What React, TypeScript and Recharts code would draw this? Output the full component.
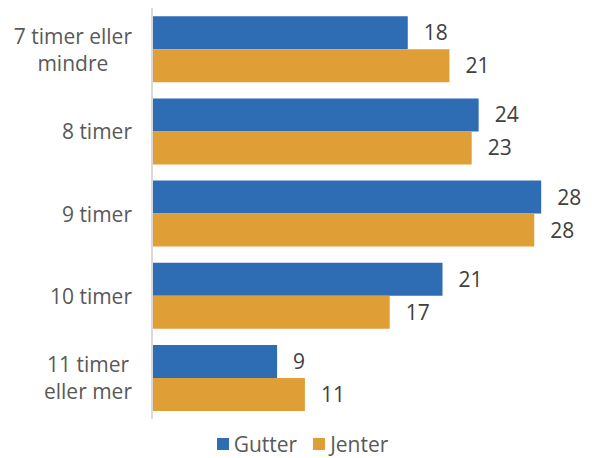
import React from 'react';
import { BarChart, Bar, XAxis, YAxis, Legend, LabelList } from 'recharts';

const categories = ['7 timer eller\nmindre', '8 timer', '9 timer', '10 timer', '11 timer\neller mer'];
const gutter = [18.4, 23.5, 28.0, 20.9, 9.0];
const jenter = [21.4, 23.0, 27.5, 17.1, 11.0];

const data = categories.map((c, i) => ({ name: c, Gutter: gutter[i], Jenter: jenter[i] }));

const FONT = '"Open Sans", sans-serif';
const FS = 21;
const BLUE = '#2E6DB4';
const ORANGE = '#E09E37';

let ctx: CanvasRenderingContext2D | null = null;
const measure = (s: string) => {
  if (!ctx) ctx = document.createElement('canvas').getContext('2d');
  if (!ctx) return s.length * 9;
  ctx.font = `${FS}px ${FONT}`;
  return ctx.measureText(s).width;
};

const CategoryTick = (props: any) => {
  const { x, y, payload } = props;
  const lines: string[] = String(payload.value).split('\n');
  const w = Math.max(...lines.map(measure));
  const cx = x - w / 2;
  const lh = 27;
  const y0 = y - ((lines.length - 1) * lh) / 2;
  return (
    <text x={cx} y={y0} textAnchor="middle" dominantBaseline="central" fill="#595959" fontSize={FS} fontFamily={FONT}>
      {lines.map((l, i) => (
        <tspan key={i} x={cx} y={y0 + i * lh}>{l}</tspan>
      ))}
    </text>
  );
};

const LegendContent = () => (
  <div style={{ height: 39, width: 595, display: 'flex', justifyContent: 'center', alignItems: 'flex-start', paddingTop: 15, paddingLeft: 10, boxSizing: 'border-box', fontFamily: FONT, fontSize: 21, color: '#595959' }}>
    {[['Gutter', BLUE], ['Jenter', ORANGE]].map(([n, c]) => (
      <div key={n} style={{ display: 'flex', alignItems: 'center', margin: '0 8px', lineHeight: '20px' }}>
        <span style={{ width: 12, height: 12, background: c, display: 'inline-block', marginRight: 5 }} />
        {n}
      </div>
    ))}
  </div>
);

export default function App() {
  return (
    <div style={{ width: 595, height: 458 }}>
      <style>{`body{margin:0}`}</style>
      <BarChart
        width={595}
        height={458}
        data={data}
        layout="vertical"
        margin={{ top: 8, right: 26, bottom: 0, left: 0 }}
        barCategoryGap="10%"
        barGap={0}
      >
        <XAxis type="number" domain={[0, 30]} hide />
        <YAxis
          type="category"
          dataKey="name"
          width={152}
          axisLine={{ stroke: '#D9D9D9', strokeWidth: 2 }}
          tickLine={false}
          tickMargin={14}
          tick={<CategoryTick />}
          interval={0}
        />
        <Legend verticalAlign="bottom" wrapperStyle={{ left: 0, width: 595 }} content={<LegendContent />} />
        <Bar dataKey="Gutter" fill={BLUE} isAnimationActive={false}>
          <LabelList dataKey="Gutter" position="right" offset={16} formatter={(v: any) => Math.round(Number(v))} fill="#404040" fontSize={FS} fontFamily={FONT} />
        </Bar>
        <Bar dataKey="Jenter" fill={ORANGE} isAnimationActive={false}>
          <LabelList dataKey="Jenter" position="right" offset={16} formatter={(v: any) => Math.round(Number(v))} fill="#404040" fontSize={FS} fontFamily={FONT} />
        </Bar>
      </BarChart>
    </div>
  );
}
